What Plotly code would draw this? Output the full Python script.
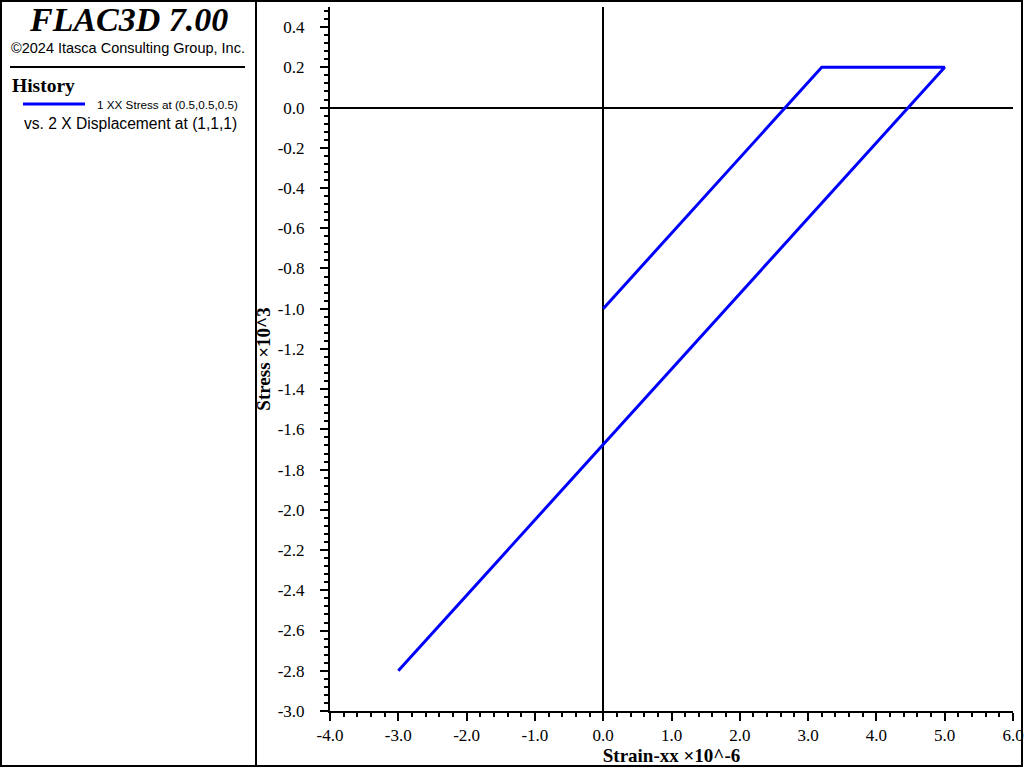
import plotly.graph_objects as go

# history vertices (strain x1e-6, stress x1e3)
strain = [0.0, 3.2, 5.0, -3.0]
stress = [-1.0, 0.2, 0.2, -2.8]

x_ticks = [-4.0, -3.0, -2.0, -1.0, 0.0, 1.0, 2.0, 3.0, 4.0, 5.0, 6.0]
y_ticks = [0.4, 0.2, 0.0, -0.2, -0.4, -0.6, -0.8, -1.0, -1.2, -1.4, -1.6,
           -1.8, -2.0, -2.2, -2.4, -2.6, -2.8, -3.0]

W, H = 1024, 768
L, R, T, B = 330, 11, 7, 57
pw, ph = W - L - R, H - T - B


def px(x):
    return (x - L) / pw


def py(y):
    return (H - B - y) / ph


serif = "Liberation Serif"
sans = "Liberation Sans"

fig = go.Figure(
    go.Scatter(
        x=strain,
        y=stress,
        mode="lines",
        line=dict(color="rgb(0,0,255)", width=3),
        showlegend=False,
        hoverinfo="skip",
    )
)

axis_common = dict(
    showgrid=False,
    showline=True,
    linecolor="black",
    linewidth=2,
    zeroline=True,
    zerolinecolor="black",
    zerolinewidth=2,
    ticks="outside",
    ticklen=8,
    tickwidth=2,
    tickcolor="black",
    tickfont=dict(family=serif, size=17, color="black"),
    tickmode="array",
    automargin=False,
)

fig.update_layout(
    width=W,
    height=H,
    margin=dict(l=L, r=R, t=T, b=B),
    font=dict(family=serif, color="black"),
    plot_bgcolor="white",
    paper_bgcolor="white",
    xaxis=dict(
        axis_common,
        range=[-4.0, 6.0],
        tickvals=x_ticks,
        ticktext=[f"{v:.1f}" for v in x_ticks],
        ticklabelstandoff=0,
        minor=dict(dtick=0.2, ticks="outside", ticklen=4, tickwidth=2, tickcolor="black", showgrid=False),
        title=dict(text="<b>Strain-xx ×10^-6</b>", font=dict(family=serif, size=19, color="black"), standoff=2),
    ),
    yaxis=dict(
        axis_common,
        range=[-3.0, 0.5],
        tickvals=y_ticks,
        ticktext=[f"{v:.1f}" for v in y_ticks],
        ticklabelstandoff=12,
        minor=dict(dtick=0.04, ticks="outside", ticklen=4, tickwidth=2, tickcolor="black", showgrid=False),
        title=dict(text="<b>Stress ×10^3</b>", font=dict(family=serif, size=19, color="black"), standoff=2),
    ),
)

# frame and side panel
shapes = [
    dict(type="rect", xref="paper", yref="paper", x0=px(1), x1=px(1022), y0=py(1), y1=py(766),
         line=dict(color="black", width=2)),
    dict(type="line", xref="paper", yref="paper", x0=px(256), x1=px(256), y0=py(1), y1=py(766),
         line=dict(color="black", width=2)),
    dict(type="line", xref="paper", yref="paper", x0=px(10), x1=px(245), y0=py(67), y1=py(67),
         line=dict(color="black", width=2)),
    dict(type="line", xref="paper", yref="paper", x0=px(23), x1=px(85), y0=py(104), y1=py(104),
         line=dict(color="rgb(0,0,255)", width=3)),
]
fig.update_layout(shapes=shapes)

texts = [
    ("<b><i>FLAC3D 7.00</i></b>", 128, 20, serif, 34, "center"),
    ("©2024 Itasca Consulting Group, Inc.", 128, 48, sans, 14.5, "center"),
    ("<b>History</b>", 10, 86, serif, 19.5, "left"),
    ("1 XX Stress at (0.5,0.5,0.5)", 95, 104, sans, 11.7, "left"),
    ("vs. 2 X Displacement at (1,1,1)", 22, 123, sans, 15.6, "left"),
]
for text, x, y, fam, size, anchor in texts:
    fig.add_annotation(
        text=text, xref="paper", yref="paper", x=px(x), y=py(y),
        xanchor=anchor, yanchor="middle", showarrow=False,
        font=dict(family=fam, size=size, color="black"),
    )

fig.write_html(
    "out.html",
    config={"displayModeBar": False},
    post_script="document.body.style.margin='0px';document.body.style.overflow='hidden';",
)
